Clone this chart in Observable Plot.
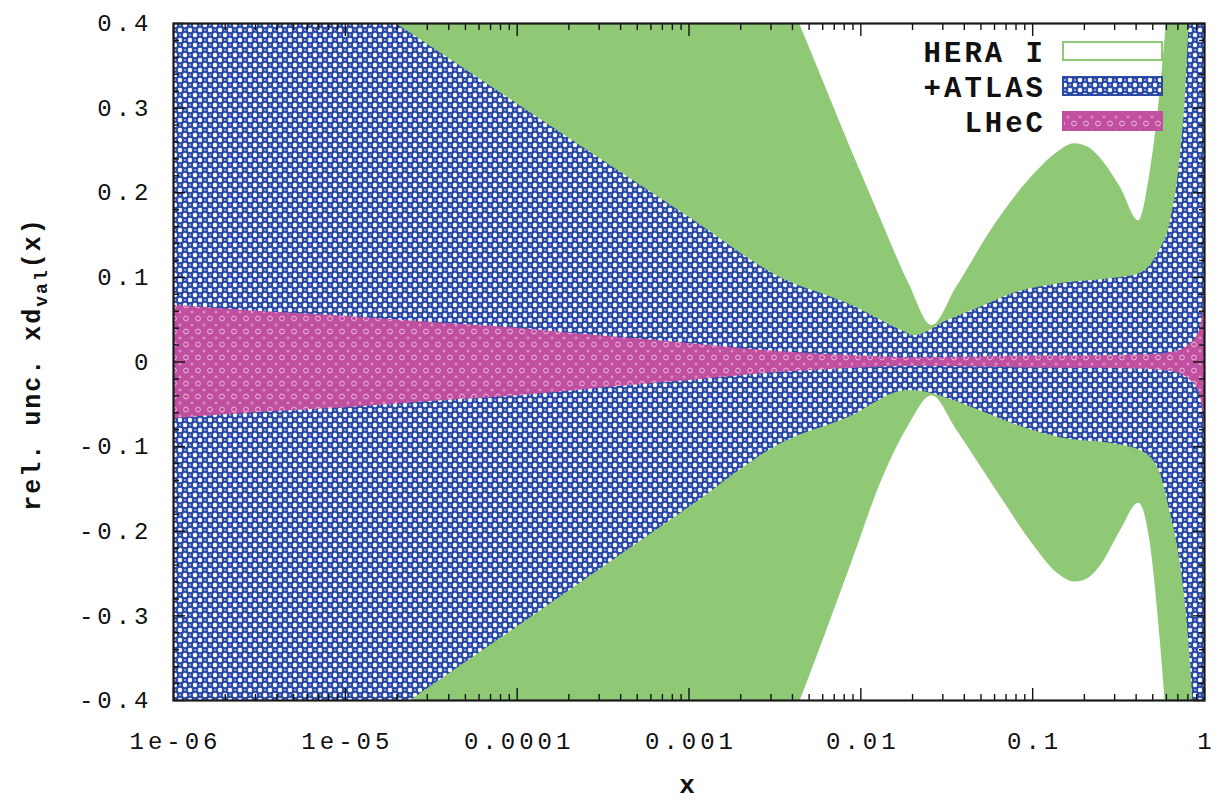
<!DOCTYPE html>
<html><head><meta charset="utf-8">
<script src="https://cdn.jsdelivr.net/npm/d3@7"></script>
<script src="https://cdn.jsdelivr.net/npm/@observablehq/plot@0.6"></script>
<style>
html,body{margin:0;padding:0;background:#fff;}
#chart svg text{letter-spacing:4px;}
</style></head><body><div id="chart"></div>
<script>
// ---- data ----
const heraX  = [1e-6, 1e-5, 1e-4, 1e-3, 0.0025, 0.0045, 0.009, 0.013, 0.019, 0.026, 0.036, 0.063, 0.1, 0.14, 0.175, 0.21, 0.25, 0.325, 0.415, 0.48, 0.555, 0.595, 0.7, 1];
const heraHi = [1.6, 1.35, 1.1, 0.71, 0.515, 0.395, 0.246, 0.17, 0.093, 0.043, 0.088, 0.168, 0.22, 0.248, 0.258, 0.254, 0.24, 0.206, 0.167, 0.221, 0.324, 0.392, 0.6, 1.2];
const heraLo = [-1.6, -1.35, -1.1, -0.72, -0.525, -0.397, -0.233, -0.144, -0.075, -0.04, -0.08, -0.155, -0.215, -0.25, -0.26, -0.256, -0.24, -0.199, -0.167, -0.21, -0.333, -0.41, -0.6, -1.2];

const atlasX  = [1e-6, 2e-5, 1e-4, 1e-3, 0.0034, 0.0084, 0.0187, 0.0203, 0.032, 0.05, 0.077, 0.15, 0.3, 0.425, 0.535, 0.635, 0.726, 0.778, 0.81, 0.85, 1];
const atlasHi = [0.573, 0.399, 0.305, 0.171, 0.1, 0.069, 0.034, 0.031, 0.049, 0.065, 0.081, 0.093, 0.099, 0.105, 0.128, 0.167, 0.246, 0.32, 0.395, 0.5, 0.9];
const atlasLo = [-0.594, -0.411, -0.313, -0.172, -0.097, -0.066, -0.034, -0.034, -0.043, -0.058, -0.073, -0.09, -0.097, -0.105, -0.125, -0.18, -0.24, -0.29, -0.33, -0.39, -0.9];

const lhecX    = [1e-6, 3e-6, 1e-5, 3e-5, 1e-4, 3e-4, 1e-3, 3e-3, 0.01, 0.02, 0.05, 0.1, 0.25, 0.5, 0.7, 0.83, 0.91, 0.95, 0.98, 1];
const lhecHalf = [0.067, 0.060, 0.054, 0.047, 0.040, 0.031, 0.022, 0.013, 0.007, 0.005, 0.006, 0.007, 0.0075, 0.009, 0.013, 0.022, 0.032, 0.042, 0.06, 0.08];

const seriesNames  = ["HERA I", "+ATLAS", "LHeC"];
const seriesColors = ["#8fc975", "#2a4aa6", "#c04fa0"];

const xTicks      = [1e-6, 1e-5, 1e-4, 1e-3, 1e-2, 1e-1, 1];
const xTickLabels = ["1e-06", "1e-05", "0.0001", "0.001", "0.01", "0.1", "1"];
const yTicks      = [-0.4, -0.3, -0.2, -0.1, 0, 0.1, 0.2, 0.3, 0.4];
const yTickLabels = ["-0.4", "-0.3", "-0.2", "-0.1", "0", "0.1", "0.2", "0.3", "0.4"];

// ---- tables ----
const hera  = heraX.map((x, i) => ({x, lo: heraLo[i], hi: heraHi[i]}));
const atlas = atlasX.map((x, i) => ({x, lo: atlasLo[i], hi: atlasHi[i]}));
const lhec  = lhecX.map((x, i) => ({x, lo: -lhecHalf[i], hi: lhecHalf[i]}));

const xMinor = [];
for (let k = -6; k < 0; k++) for (let m = 2; m <= 9; m++) xMinor.push(m * Math.pow(10, k));
const yMinor = d3.range(-20, 21).filter(i => i % 5 !== 0).map(i => i / 50);

const tickOnly = (axis, anchor, ticks, size) =>
  axis({anchor, ticks, tickSize: size, fill: "none", label: null, stroke: "#111", strokeWidth: 1.4});

const chart = Plot.plot({
  width: 1223, height: 805,
  marginLeft: 173, marginRight: 19, marginTop: 23, marginBottom: 105,
  style: {fontFamily: "'Liberation Mono', 'DejaVu Sans Mono', monospace", fontSize: "24px", color: "#111", background: "#fff"},
  x: {type: "log", domain: [1e-6, 1]},
  y: {domain: [-0.4, 0.4]},
  marks: [
    Plot.areaY(hera,  {x: "x", y1: "lo", y2: "hi", fill: seriesColors[0], curve: "monotone-x", clip: true}),
    Plot.areaY(atlas, {x: "x", y1: "lo", y2: "hi", fill: "url(#patAtlas)", curve: "monotone-x", clip: true}),
    Plot.areaY(lhec,  {x: "x", y1: "lo", y2: "hi", fill: "url(#patLhec)", curve: "monotone-x", clip: true}),
    Plot.axisX({anchor: "bottom", ticks: xTicks, tickSize: 0, tickPadding: 31, dx: 2, label: null,
                tickFormat: d => xTickLabels[xTicks.indexOf(d)]}),
    Plot.axisY({anchor: "left", ticks: yTicks, tickSize: 0, tickPadding: 21, label: null,
                tickFormat: d => yTickLabels[yTicks.indexOf(d)]}),
    tickOnly(Plot.axisX, "bottom", xTicks, -12),
    tickOnly(Plot.axisX, "bottom", xMinor, -6),
    tickOnly(Plot.axisX, "top", xTicks, -12),
    tickOnly(Plot.axisX, "top", xMinor, -6),
    tickOnly(Plot.axisY, "left", yTicks, -12),
    tickOnly(Plot.axisY, "left", yMinor, -6),
    tickOnly(Plot.axisY, "right", yTicks, -12),
    tickOnly(Plot.axisY, "right", yMinor, -6),
    Plot.text(["x"], {frameAnchor: "bottom", dy: 92, text: d => d, fontWeight: "bold", fontSize: 26}),
    Plot.frame({stroke: "#1a1a1a", strokeWidth: 2.2})
  ]
});

document.getElementById("chart").appendChild(chart);

// ---- fill patterns ----
const svg = d3.select(chart);
const defs = svg.insert("defs", ":first-child");
const pa = defs.append("pattern").attr("id", "patAtlas").attr("patternUnits", "userSpaceOnUse")
  .attr("width", 10).attr("height", 10);
pa.append("rect").attr("width", 10).attr("height", 10).attr("fill", seriesColors[1]);
[[0,0],[10,0],[0,10],[10,10],[5,5]].forEach(([cx, cy]) =>
  pa.append("circle").attr("cx", cx).attr("cy", cy).attr("r", 2.2).attr("fill", "#fff"));
[[5,0],[0,5],[10,5],[5,10]].forEach(([cx, cy]) =>
  pa.append("circle").attr("cx", cx).attr("cy", cy).attr("r", 0.9).attr("fill", "#b8c4ea"));

const pl = defs.append("pattern").attr("id", "patLhec").attr("patternUnits", "userSpaceOnUse")
  .attr("width", 12).attr("height", 13);
pl.append("rect").attr("width", 12).attr("height", 13).attr("fill", seriesColors[2]);
pl.append("circle").attr("cx", 6).attr("cy", 6.5).attr("r", 2.4).attr("fill", "none")
  .attr("stroke", "#ecc2e2").attr("stroke-width", 0.9);
pl.append("path").attr("d", "M-1.5,0H1.5M0,-1.5V1.5M10.5,0H13.5M12,-1.5V1.5M-1.5,13H1.5M0,11.5V14.5M10.5,13H13.5M12,11.5V14.5")
  .attr("stroke", "#e6b2da").attr("stroke-width", 0.8);

// ---- y label with subscript ----
const yl = svg.append("text").attr("transform", "translate(40,364) rotate(-90)")
  .attr("text-anchor", "middle").attr("fill", "#111")
  .style("font-family", "'Liberation Mono', monospace").style("font-weight", "bold")
  .style("font-size", "25px").style("letter-spacing", "2px");
yl.append("tspan").text("rel. unc. xd");
yl.append("tspan").attr("dy", 7).style("font-size", "18px").text("val");
yl.append("tspan").attr("dy", -7).text("(x)");

// ---- legend ----
const legFill = ["#fff", "url(#patAtlas)", "url(#patLhec)"];
const leg = svg.append("g");
seriesNames.forEach((name, i) => {
  const top = 42 + i * 35;
  leg.append("text").attr("x", 1046).attr("y", top + 20).attr("text-anchor", "end").attr("fill", "#111")
    .style("font-family", "'Liberation Mono', monospace").style("font-weight", "bold")
    .style("font-size", "29px").style("letter-spacing", "3px").text(name);
  leg.append("rect").attr("x", 1063).attr("y", top).attr("width", 99).attr("height", 18)
    .attr("fill", legFill[i]).attr("stroke", seriesColors[i]).attr("stroke-width", 2);
});
</script>
</body></html>
